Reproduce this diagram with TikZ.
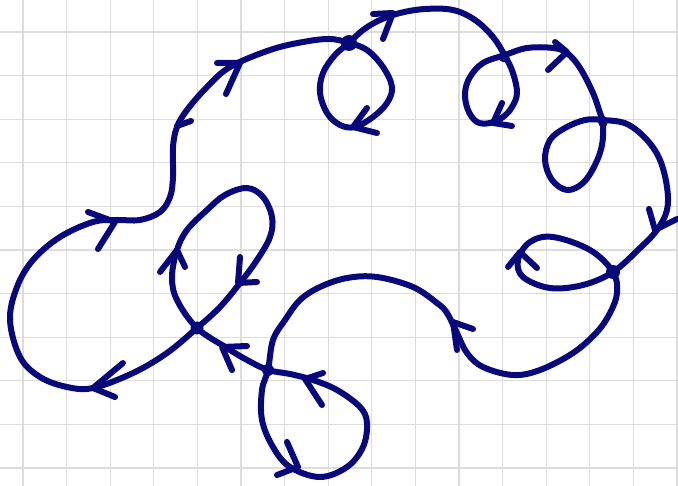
\documentclass[tikz,border=0pt]{standalone}
\definecolor{ink}{RGB}{8,8,122}
\definecolor{gridgray}{RGB}{220,220,220}
\newcommand\inkarrow[3]{\draw[inkline] #2 -- #1 -- #3;}
\begin{document}
\begin{tikzpicture}[x=1pt,y=-1pt,
  inkline/.style={draw=ink, line width=6pt, line cap=round, line join=round},
  gridline/.style={draw=gridgray, line width=1.3pt},
  blob/.style={fill=ink}]
\fill[white] (0,0) rectangle (678,486);
\useasboundingbox (0,0) rectangle (678,486);
\foreach \i in {0,...,15} \draw[gridline] ({23+43.6*\i},0) -- ({23+43.6*\i},486);
\foreach \j in {0,...,10} \draw[gridline] (0,{32+43.6*\j}) -- (678,{32+43.6*\j});
% main closed curve
\draw[inkline] plot[smooth cycle, tension=0.6] coordinates {
 (197,328) (167,353) (133,373) (93,388) (67,387) (40,377) (20,357) (10,320)
 (17,287) (33,260) (60,237) (93,222) (117,220) (140,220) (160,212) (170,197)
 (173,177) (173,147) (177,127) (187,110) (207,87) (230,67) (270,50) (303,42)
 (330,39) (349,43)
 (367,50) (383,67) (392,87) (387,103) (373,117) (355,127) (340,125) (327,113)
 (320,93) (323,73) (335,55) (349,43)
 (363,30) (380,20) (400,13) (425,9) (453,10) (475,20) (493,37) (505,56)
 (513,73) (517,93) (512,107) (503,117) (490,123) (477,122) (468,110) (465,93)
 (470,77) (483,63) (505,55)
 (527,48) (553,48) (567,53) (580,68) (593,93) (600,113) (603,123)
 (602,145) (595,165) (583,183) (567,190) (552,180) (545,160) (550,140) (565,128)
 (585,120) (603,120)
 (627,124) (647,140) (660,160) (667,187) (667,210) (657,230) (640,248) (613,272)
 (583,285) (550,288) (523,277) (518,260) (530,242) (553,237) (590,250) (613,272)
 (617,293) (610,313) (597,332) (573,353) (540,370) (513,375) (483,367) (467,353)
 (457,333) (447,313) (437,303) (413,287) (377,277) (347,278) (320,287) (300,300)
 (285,320) (273,340) (268,370)
 (262,390) (262,420) (273,447) (290,467) (320,477) (347,467) (363,447) (367,423)
 (360,407) (337,390) (313,380) (290,374) (268,370)
 (247,360) (227,348) (197,328)
 (177,300) (172,277) (177,250) (187,230) (207,210) (225,195) (247,188) (263,197)
 (272,217) (270,237) (257,260) (240,283) (220,307)
};
% crossing blobs
\fill[blob] (349,43) circle (8pt);
\fill[blob] (613,272) circle (7pt);
\fill[blob] (197,328) circle (6.5pt);
\fill[blob] (268,370) circle (6pt);
\fill[blob] (603,122) circle (5pt);
\draw[ink, line width=2.5pt] (504,57) circle (4pt);
% hand-drawn arrowheads
\inkarrow{(93,388)}{(123,363)}{(115,397)}
\inkarrow{(115,222)}{(88,212)}{(98,249)}
\draw[inkline] (177,126) -- (191,121);
\inkarrow{(240,63)}{(217,63)}{(226,94)}
\inkarrow{(393,13)}{(373,14)}{(383,39)}
\inkarrow{(353,127)}{(367,108)}{(377,133)}
\inkarrow{(493,123)}{(502,103)}{(512,126)}
\inkarrow{(567,52)}{(555,42)}{(548,70)}
\inkarrow{(655,230)}{(649,209)}{(677,219)}
\inkarrow{(520,252)}{(508,267)}{(537,268)}
\inkarrow{(453,322)}{(457,350)}{(473,329)}
\inkarrow{(298,467)}{(287,442)}{(277,475)}
\inkarrow{(305,379)}{(323,373)}{(322,405)}
\inkarrow{(222,347)}{(247,346)}{(232,370)}
\inkarrow{(177,250)}{(160,272)}{(185,267)}
\inkarrow{(238,283)}{(240,257)}{(257,282)}
\end{tikzpicture}
\end{document}
